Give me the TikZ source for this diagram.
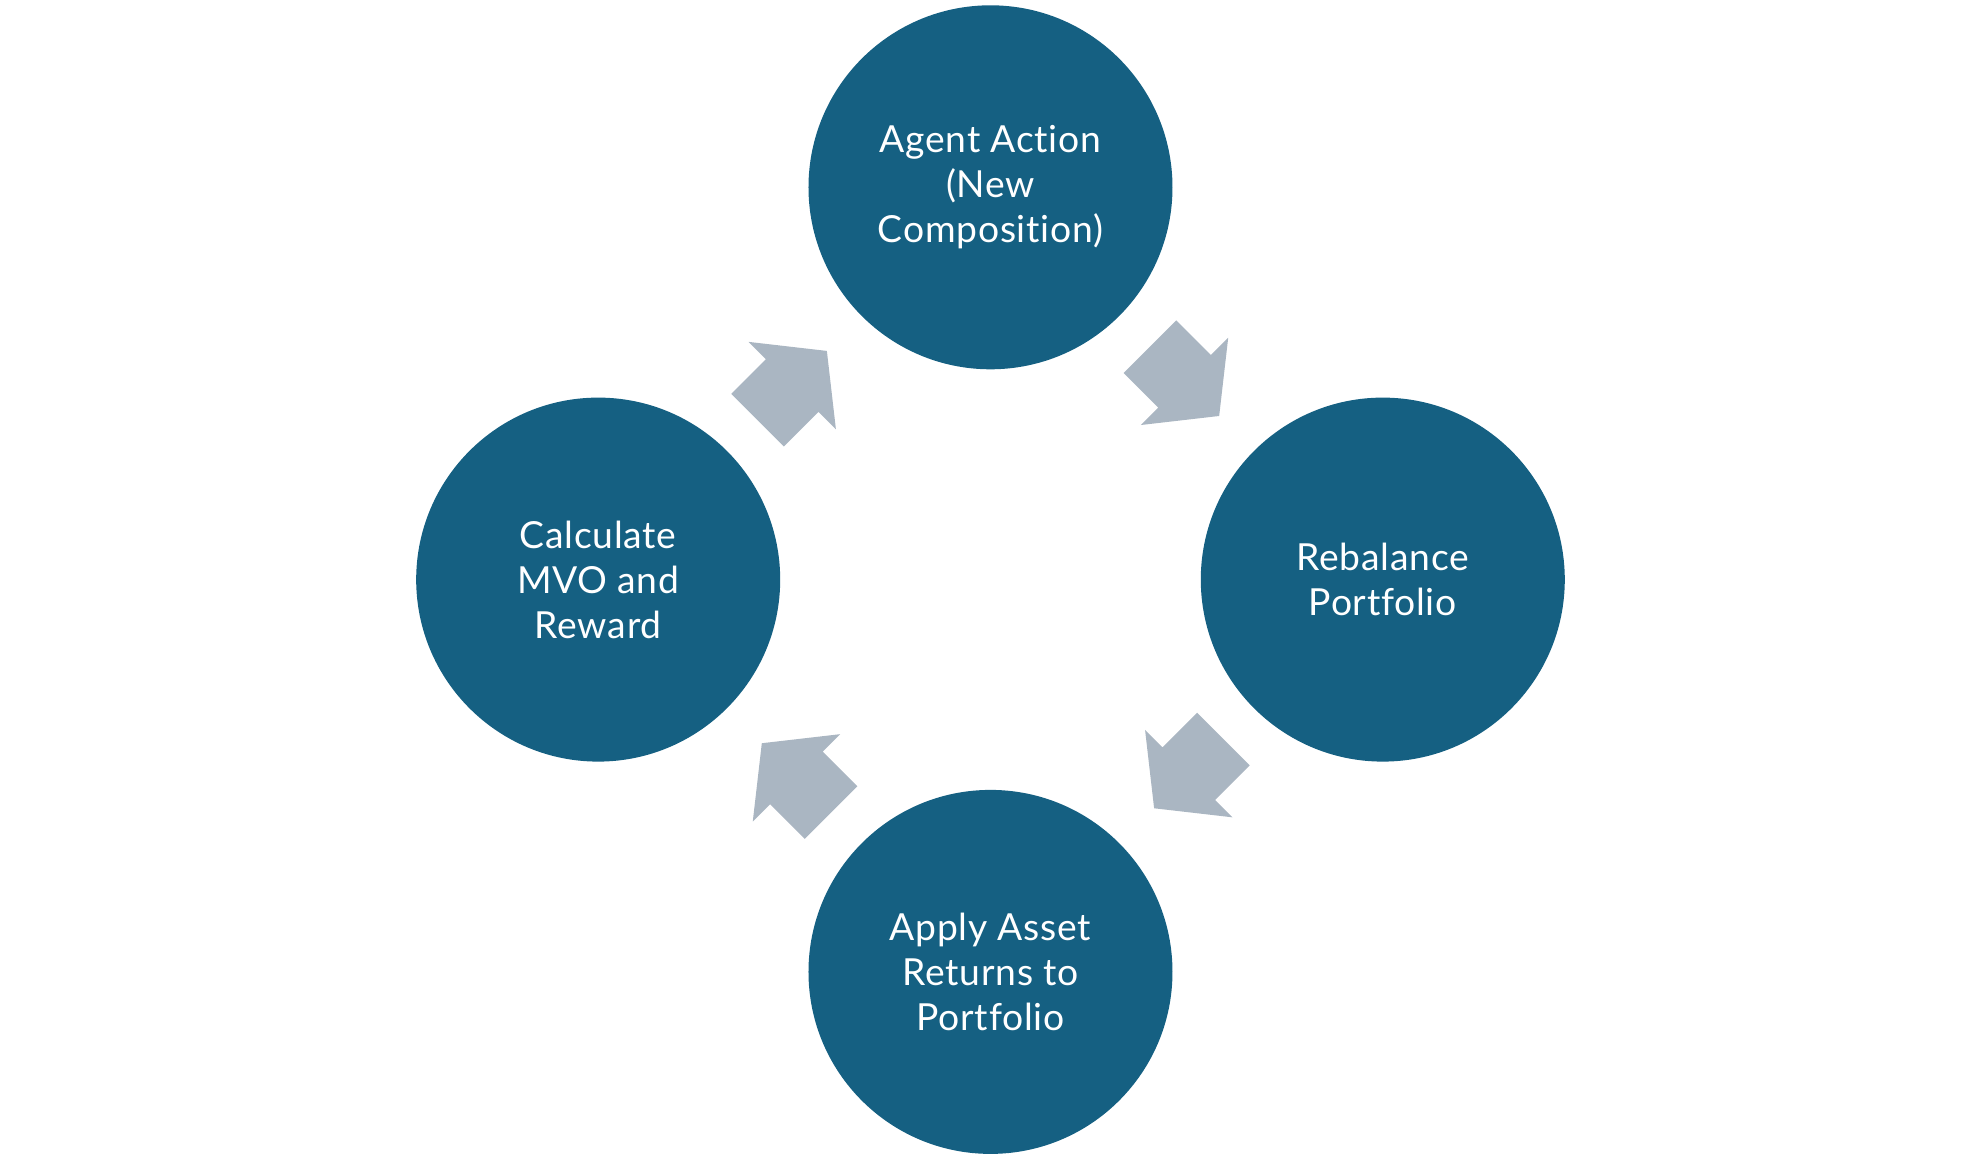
\documentclass[tikz,border=0pt]{standalone}
\usepackage{fontspec}
\setmainfont{Lato}[Ligatures=NoCommon, LetterSpace=2]
\usetikzlibrary{calc}

\definecolor{stageblue}{HTML}{156082}
\definecolor{arrowgray}{HTML}{AAB6C2}

\def\dist{3.923}
\def\rad{1.82}

\tikzset{
  stage/.style={circle, fill=stageblue, draw=none, minimum size=2*\rad cm, inner sep=0pt,
    text=white, align=center, font=\fontsize{10.6}{12.8}\selectfont},
  cyclearrow/.style={fill=arrowgray, draw=none}
}

\begin{document}
\begin{tikzpicture}
  \useasboundingbox (-9.905,-5.804) rectangle (9.895,5.796);

  \node[stage] (action) at (90:\dist)  {Agent Action\\(New\\Composition)};
  \node[stage] (rebal)  at (0:\dist)   {Rebalance\\Portfolio};
  \node[stage] (apply)  at (270:\dist) {Apply Asset\\Returns to\\Portfolio};
  \node[stage] (calc)   at (180:\dist) {Calculate\\MVO and\\Reward};

  % block arrows between neighbouring stages
  \foreach \from/\to/\ang in {calc/action/45, action/rebal/-45, rebal/apply/-135, apply/calc/135}{
    \begin{scope}[shift={($(\from)!0.5!(\to)$)}, rotate=\ang]
      \fill[cyclearrow] (-0.52,0.372) -- (-0.03,0.372) -- (-0.03,0.618) -- (0.46,0)
        -- (-0.03,-0.618) -- (-0.03,-0.372) -- (-0.52,-0.372) -- cycle;
    \end{scope}
  }
\end{tikzpicture}
\end{document}
